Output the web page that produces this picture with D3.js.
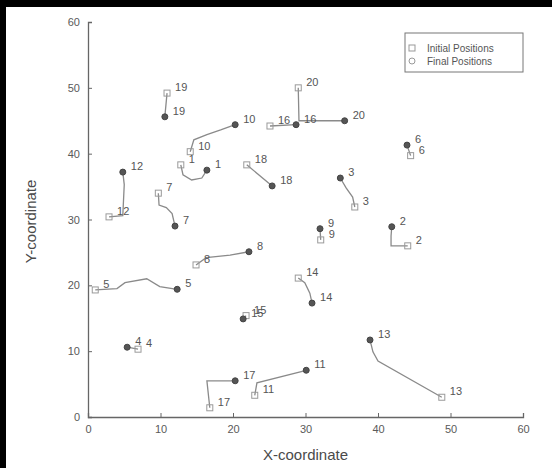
<!DOCTYPE html>
<html>
<head>
<meta charset="utf-8">
<script src="https://cdn.jsdelivr.net/npm/d3@7"></script>
<style>
  html, body { margin: 0; padding: 0; background: #fff; }
  svg { display: block; font-family: "Liberation Sans", Arial, sans-serif; }
</style>
</head>
<body>
<svg id="chart" width="552" height="468"></svg>
<script>
// Agent numbers
const agentIds = [1, 2, 3, 4, 5, 6, 7, 8, 9, 10, 11, 12, 13, 14, 15, 16, 17, 18, 19, 20];

// Starting positions
const initialX = [12.8, 44.1, 36.8, 6.9, 1.0, 44.5, 9.7, 14.9, 32.1, 14.1, 23.0, 2.9, 48.8, 29.0, 21.8, 25.1, 16.8, 21.9, 10.9, 29.0];
const initialY = [38.3, 26.0, 31.9, 10.3, 19.3, 39.7, 34.0, 23.1, 26.9, 40.3, 3.3, 30.4, 3.0, 21.1, 15.4, 44.2, 1.4, 38.3, 49.2, 50.0];

// End positions
const finalX = [16.4, 41.9, 34.8, 5.4, 12.3, 44.0, 12.0, 22.2, 32.0, 20.3, 30.1, 4.8, 38.9, 30.9, 21.4, 28.7, 20.3, 25.4, 10.6, 35.4];
const finalY = [37.5, 28.9, 36.3, 10.6, 19.4, 41.3, 29.0, 25.1, 28.6, 44.4, 7.1, 37.2, 11.7, 17.3, 14.9, 44.4, 5.5, 35.1, 45.6, 45.0];

// Intermediate points of each trajectory, between start and end
const waypoints = [
  [[13.1, 36.8], [14.3, 36.0], [15.7, 36.3]],
  [[41.8, 26.0], [41.8, 27.5]],
  [[36.5, 33.4], [35.6, 34.8]],
  [],
  [[4.0, 19.5], [5.1, 20.4], [8.1, 21.0], [9.9, 19.8]],
  [],
  [[9.8, 32.2], [10.8, 31.8], [11.6, 30.9]],
  [[16.3, 24.2], [19.6, 24.6]],
  [],
  [[14.6, 42.1], [16.4, 42.9], [18.3, 43.6]],
  [[23.3, 5.2]],
  [[4.8, 30.6], [5.0, 35.3]],
  [[40.0, 8.5], [39.3, 9.9]],
  [[29.9, 20.4], [30.6, 18.8]],
  [],
  [],
  [[16.4, 5.5]],
  [],
  [],
  [[29.1, 45.0]]
];

const xTicks = [0, 10, 20, 30, 40, 50, 60];
const yTicks = [0, 10, 20, 30, 40, 50, 60];
const legendLabels = ["Initial Positions", "Final Positions"];

const svg = d3.select("#chart");
const W = 552, H = 468;
const plot = { left: 88, right: 523, top: 22, bottom: 417 };

svg.append("rect").attr("width", W).attr("height", H).attr("fill", "#fff");

// dark frame edges
svg.append("rect").attr("x", 0).attr("y", 0).attr("width", W).attr("height", 7).attr("fill", "#000");
svg.append("rect").attr("x", 0).attr("y", 0).attr("width", 6).attr("height", H).attr("fill", "#000");

const x = d3.scaleLinear().domain([0, 60]).range([plot.left, plot.right]);
const y = d3.scaleLinear().domain([0, 60]).range([plot.bottom, plot.top]);

const axisColor = "#666";
const textColor = "#5a5a5a";

// axes with inward ticks
const xAxis = svg.append("g")
  .attr("transform", `translate(0,${plot.bottom})`)
  .call(d3.axisBottom(x).tickValues(xTicks).tickSize(-4).tickPadding(8).tickFormat(d3.format("d")));
const yAxis = svg.append("g")
  .attr("transform", `translate(${plot.left},0)`)
  .call(d3.axisLeft(y).tickValues(yTicks).tickSize(-4).tickPadding(8).tickFormat(d3.format("d")));

[xAxis, yAxis].forEach(g => {
  g.select(".domain").attr("stroke", axisColor).attr("stroke-width", 1.3);
  g.selectAll(".tick line").attr("stroke", axisColor);
  g.selectAll(".tick text")
    .attr("fill", textColor)
    .style("font-size", "11px")
    .style("font-family", "'Liberation Sans', Arial, sans-serif");
});

// axis titles
svg.append("text")
  .attr("x", (plot.left + plot.right) / 2)
  .attr("y", 460)
  .attr("text-anchor", "middle")
  .attr("fill", "#4a4a4a")
  .style("font-size", "15px")
  .text("X-coordinate");

svg.append("text")
  .attr("transform", `translate(36,${(plot.top + plot.bottom) / 2 + 2}) rotate(-90)`)
  .attr("text-anchor", "middle")
  .attr("fill", "#4a4a4a")
  .style("font-size", "15px")
  .text("Y-coordinate");

// trajectories
const agents = agentIds.map((id, i) => ({
  id,
  start: [initialX[i], initialY[i]],
  end: [finalX[i], finalY[i]],
  path: [[initialX[i], initialY[i]], ...waypoints[i], [finalX[i], finalY[i]]]
}));

const line = d3.line().x(d => x(d[0])).y(d => y(d[1]));

svg.append("g").selectAll("path")
  .data(agents)
  .join("path")
  .attr("d", d => line(d.path))
  .attr("fill", "none")
  .attr("stroke", "#8a8a8a")
  .attr("stroke-width", 1.3);

// initial position markers (squares)
const sq = 6;
svg.append("g").selectAll("rect")
  .data(agents)
  .join("rect")
  .attr("x", d => x(d.start[0]) - sq / 2)
  .attr("y", d => y(d.start[1]) - sq / 2)
  .attr("width", sq)
  .attr("height", sq)
  .attr("fill", "none")
  .attr("stroke", "#9a9a9a")
  .attr("stroke-width", 1);

// final position markers (circles)
svg.append("g").selectAll("circle")
  .data(agents)
  .join("circle")
  .attr("cx", d => x(d.end[0]))
  .attr("cy", d => y(d.end[1]))
  .attr("r", 3)
  .attr("fill", "#555")
  .attr("stroke", "#444")
  .attr("stroke-width", 1);

// number labels at both ends
const labelG = svg.append("g")
  .attr("fill", "#555")
  .style("font-size", "11px");
agents.forEach(d => {
  labelG.append("text")
    .attr("x", x(d.start[0]) + 8)
    .attr("y", y(d.start[1]) - 2)
    .text(d.id);
  labelG.append("text")
    .attr("x", x(d.end[0]) + 8)
    .attr("y", y(d.end[1]) - 2)
    .text(d.id);
});

// legend
const lg = svg.append("g").attr("transform", "translate(405,33)");
lg.append("rect")
  .attr("width", 118)
  .attr("height", 39)
  .attr("fill", "#fff")
  .attr("stroke", "#777")
  .attr("stroke-width", 1);
lg.append("rect")
  .attr("x", 4).attr("y", 12).attr("width", 6).attr("height", 6)
  .attr("fill", "none").attr("stroke", "#999");
lg.append("circle")
  .attr("cx", 7).attr("cy", 28).attr("r", 3)
  .attr("fill", "none").attr("stroke", "#999");
lg.selectAll("text.entry")
  .data(legendLabels)
  .join("text")
  .attr("class", "entry")
  .attr("x", 22)
  .attr("y", (d, i) => 19 + i * 13)
  .attr("fill", "#555")
  .style("font-size", "10px")
  .text(d => d);
</script>
</body>
</html>
